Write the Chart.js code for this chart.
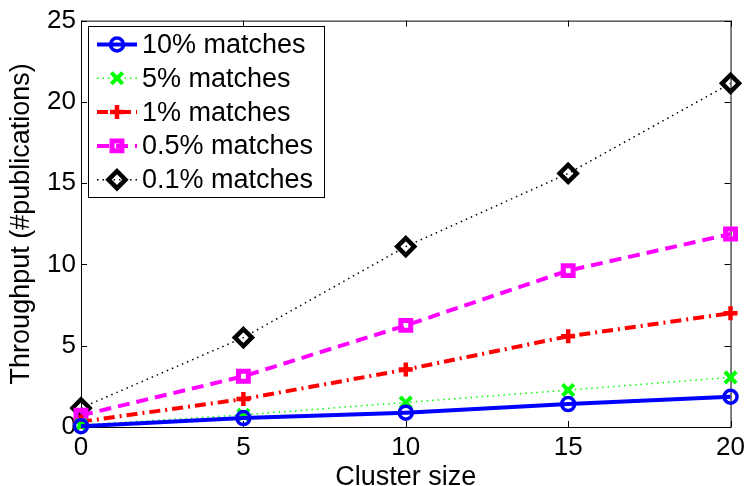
<!DOCTYPE html>
<html>
<head>
<meta charset="utf-8">
<script src="https://cdn.jsdelivr.net/npm/chart.js@4.4.1/dist/chart.umd.min.js"></script>
<style>
  html, body { margin: 0; padding: 0; background: #fff; }
  canvas { display: block; }
</style>
</head>
<body>
<canvas id="throughputChart" width="750" height="486"></canvas>
<script>
// cluster sizes on the x axis
const clusterSizes = [0, 5, 10, 15, 20];
const xTicks = [0, 5, 10, 15, 20];
const yTicks = [0, 5, 10, 15, 20, 25];

// throughput per match ratio
const matches10 = [0.05, 0.55, 0.88, 1.41, 1.86];
const matches5 = [0.12, 0.75, 1.51, 2.27, 3.05];
const matches1 = [0.33, 1.72, 3.53, 5.58, 7.0];
const matches05 = [0.72, 3.12, 6.25, 9.62, 11.87];
const matches01 = [1.17, 5.5, 11.1, 15.6, 21.14];

const FONT = '"Liberation Sans", Arial, Helvetica, sans-serif';

const toPoints = arr => arr.map((y, i) => ({ x: clusterSizes[i], y }));

function series(label, values, color, dash, width, style, radius, markerWidth) {
  return {
    label,
    data: toPoints(values),
    borderColor: color,
    backgroundColor: 'transparent',
    borderWidth: width,
    borderDash: dash,
    pointStyle: style,
    pointRadius: radius,
    pointBorderWidth: markerWidth,
    pointBorderColor: color,
    pointBackgroundColor: 'transparent',
    tension: 0,
    clip: false
  };
}

const datasets = [
  series('10% matches', matches10, '#0000ff', [], 4, 'circle', 6.5, 3.5),
  series('5% matches', matches5, '#00ff00', [1.5, 4], 1.5, 'crossRot', 8, 4),
  series('1% matches', matches1, '#ff0000', [11, 5, 2, 5], 4, 'cross', 7, 4.5),
  series('0.5% matches', matches05, '#ff00ff', [12, 7], 4, 'rect', 7, 5),
  series('0.1% matches', matches01, '#000000', [1.5, 4], 1.5, 'rectRot', 8.5, 4.5)
];

// axes box with inward tick marks on all four sides
const frame = {
  id: 'frame',
  beforeDatasetsDraw(chart) {
    const { ctx, chartArea: a, scales } = chart;
    const len = 6;
    ctx.save();
    ctx.strokeStyle = '#000';
    ctx.lineWidth = 1;
    ctx.strokeRect(a.left + 0.5, a.top + 0.5, a.right - a.left, a.bottom - a.top);
    ctx.beginPath();
    xTicks.forEach(v => {
      const px = Math.round(scales.x.getPixelForValue(v)) + 0.5;
      ctx.moveTo(px, a.bottom); ctx.lineTo(px, a.bottom - len);
      ctx.moveTo(px, a.top); ctx.lineTo(px, a.top + len);
    });
    yTicks.forEach(v => {
      const py = Math.round(scales.y.getPixelForValue(v)) + 0.5;
      ctx.moveTo(a.left, py); ctx.lineTo(a.left + len, py);
      ctx.moveTo(a.right, py); ctx.lineTo(a.right - len, py);
    });
    ctx.stroke();
    ctx.restore();
  }
};

// boxed legend in the upper-left corner of the plot
const boxLegend = {
  id: 'boxLegend',
  afterDraw(chart) {
    const { ctx } = chart;
    const box = { left: 88, top: 26, width: 236, height: 171 };
    const rowTop = 44.5, rowGap = 33.8;
    ctx.save();
    ctx.fillStyle = '#fff';
    ctx.fillRect(box.left, box.top, box.width, box.height);
    ctx.strokeStyle = '#000';
    ctx.lineWidth = 1;
    ctx.strokeRect(box.left + 0.5, box.top + 0.5, box.width, box.height);
    chart.data.datasets.forEach((ds, i) => {
      const y = rowTop + i * rowGap;
      ctx.save();
      ctx.strokeStyle = ds.borderColor;
      ctx.lineWidth = ds.borderWidth;
      ctx.setLineDash(ds.borderDash);
      ctx.beginPath();
      ctx.moveTo(97, y);
      ctx.lineTo(137, y);
      ctx.stroke();
      ctx.setLineDash([]);
      ctx.lineWidth = ds.pointBorderWidth;
      ctx.fillStyle = 'transparent';
      Chart.helpers.drawPoint(ctx, {
        pointStyle: ds.pointStyle,
        radius: ds.pointRadius,
        rotation: 0,
        borderWidth: ds.pointBorderWidth
      }, 117, y);
      ctx.restore();
      ctx.fillStyle = '#000';
      ctx.font = '27px ' + FONT;
      ctx.textBaseline = 'middle';
      ctx.textAlign = 'left';
      ctx.fillText(ds.label, 142, y + 1);
    });
    ctx.restore();
  }
};

new Chart(document.getElementById('throughputChart'), {
  type: 'line',
  data: { datasets },
  options: {
    responsive: false,
    animation: false,
    layout: { padding: { top: 19, right: 17, left: 0, bottom: 0 } },
    plugins: { legend: { display: false }, tooltip: { enabled: false } },
    scales: {
      x: {
        type: 'linear',
        min: 0,
        max: 20,
        afterBuildTicks: s => { s.ticks = xTicks.map(v => ({ value: v })); },
        afterFit: s => { s.height = 59; },
        grid: { display: false, drawTicks: false },
        border: { display: false },
        ticks: { color: '#000', font: { family: FONT, size: 26 }, padding: 5, maxRotation: 0 },
        title: {
          display: true,
          text: 'Cluster size',
          color: '#000',
          font: { family: FONT, size: 27, lineHeight: 0.6 },
          padding: 0
        }
      },
      y: {
        type: 'linear',
        min: 0,
        max: 25,
        afterBuildTicks: s => { s.ticks = yTicks.map(v => ({ value: v })); },
        afterFit: s => { s.width = 81; },
        grid: { display: false, drawTicks: false },
        border: { display: false },
        ticks: { color: '#000', font: { family: FONT, size: 26 }, padding: 5 },
        title: {
          display: true,
          text: 'Throughput (#publications)',
          color: '#000',
          font: { family: FONT, size: 27, lineHeight: 1 },
          padding: { top: 8.5, bottom: 0 }
        }
      }
    }
  },
  plugins: [frame, boxLegend]
});
</script>
</body>
</html>
